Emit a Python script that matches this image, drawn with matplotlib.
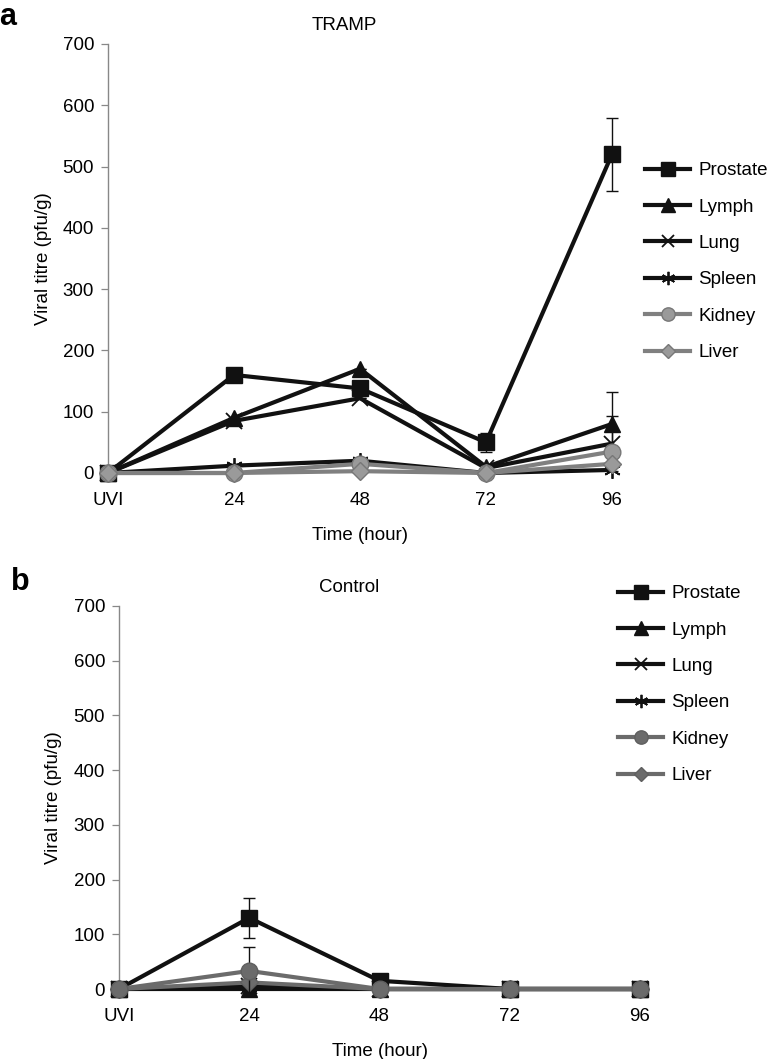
import numpy as np
import matplotlib.pyplot as plt
from matplotlib.lines import Line2D

plt.rcParams['font.family'] = ['Liberation Sans', 'DejaVu Sans']

# --- data ---
time_labels = ['UVI', '24', '48', '72', '96']
organs = ['Prostate', 'Lymph', 'Lung', 'Spleen', 'Kidney', 'Liver']

# panel a: TRAMP
tramp_prostate = [0, 160, 138, 50, 520]
tramp_lymph = [0, 90, 170, 10, 80]
tramp_lung = [0, 85, 122, 8, 48]
tramp_spleen = [0, 12, 20, 0, 5]
tramp_kidney = [0, 0, 15, 0, 35]
tramp_liver = [0, 0, 3, 0, 15]
tramp_prostate_err = [0, 0, 0, 16, 60]
tramp_lymph_err = [0, 0, 0, 0, 52]
tramp_lung_err = [0, 0, 0, 0, 45]

# panel b: Control
ctrl_prostate = [0, 130, 15, 0, 0]
ctrl_lymph = [0, 0, 0, 0, 0]
ctrl_lung = [0, 5, 0, 0, 0]
ctrl_spleen = [0, 3, 0, 0, 0]
ctrl_kidney = [0, 33, 0, 0, 0]
ctrl_liver = [0, 12, 0, 0, 0]
ctrl_prostate_err = [0, 37, 0, 0, 0]
ctrl_kidney_err = [0, 44, 0, 0, 0]

W, H = 773, 1059
FS = 13.5
fig = plt.figure(figsize=(W / 100, H / 100), dpi=100)


def px_axes(left, right, top, bottom):
    return fig.add_axes([left / W, 1 - bottom / H, (right - left) / W, (bottom - top) / H])


def style(grey_line, grey_face, grey_edge):
    return {
        'Prostate': dict(color='#111111', marker='s', ms=12, mfc='#111111', mec='#111111'),
        'Lymph': dict(color='#111111', marker='^', ms=12, mfc='#111111', mec='#111111'),
        'Lung': dict(color='#111111', marker='x', ms=11, mew=1.3, mec='#111111'),
        'Spleen': dict(color='#111111', marker=(6, 2, 0), ms=12, mew=1.3, mec='#111111'),
        'Kidney': dict(color=grey_line, marker='o', ms=12, mfc=grey_face, mec=grey_edge),
        'Liver': dict(color=grey_line, marker='D', ms=9.5, mfc=grey_face, mec=grey_edge),
    }


def draw_panel(ax, series, errs, styles, zorders):
    x = np.arange(len(time_labels))
    for name, vals in zip(organs, series):
        st = styles[name]
        ax.plot(x, vals, lw=3.0, clip_on=False, zorder=zorders[name], **st)
        if name in errs:
            ax.errorbar(x, vals, yerr=errs[name], fmt='none', ecolor='#111111',
                        elinewidth=1.0, capsize=4, capthick=1.0,
                        zorder=zorders[name] - 0.5, clip_on=False)
    ax.set_xlim(0, 4)
    ax.set_ylim(0, 700)
    ax.set_yticks(np.arange(0, 701, 100))
    ax.set_xticks(x)
    ax.set_xticklabels(time_labels)
    for s in ['top', 'right', 'bottom']:
        ax.spines[s].set_visible(False)
    ax.spines['left'].set_color('#888888')
    ax.spines['left'].set_linewidth(1.0)
    ax.tick_params(axis='y', direction='out', length=5, width=0.9, color='#888888',
                   labelsize=FS, pad=5)
    ax.tick_params(axis='x', length=0, labelsize=FS, pad=13.5)
    ax.set_xlabel('Time (hour)', fontsize=FS, labelpad=13)
    ax.set_ylabel('Viral titre (pfu/g)', fontsize=FS, labelpad=8)


def add_legend(ax, styles, x0, y0):
    handles = [Line2D([], [], lw=3.0, **styles[n]) for n in organs]
    ax.legend(handles, organs, loc='upper left', bbox_to_anchor=(x0 / W, 1 - y0 / H),
              bbox_transform=fig.transFigure, frameon=False, fontsize=FS,
              handlelength=2.4, handletextpad=0.45, labelspacing=1.03, borderpad=0,
              borderaxespad=0, markerscale=0.8)


# panel a
ax1 = px_axes(108, 612, 44, 473)
st_a = style('#808080', '#9a9a9a', '#777777')
z_a = {n: 3 + i for i, n in enumerate(organs)}
draw_panel(ax1,
           [tramp_prostate, tramp_lymph, tramp_lung, tramp_spleen, tramp_kidney, tramp_liver],
           {'Prostate': tramp_prostate_err, 'Lymph': tramp_lymph_err, 'Lung': tramp_lung_err},
           st_a, z_a)
add_legend(ax1, st_a, 645, 162)

# panel b
ax2 = px_axes(119, 640, 606, 989)
st_b = style('#6b6b6b', '#6b6b6b', '#5f5f5f')
z_b = {'Lymph': 3, 'Lung': 4, 'Spleen': 5, 'Liver': 6, 'Prostate': 7, 'Kidney': 8}
draw_panel(ax2,
           [ctrl_prostate, ctrl_lymph, ctrl_lung, ctrl_spleen, ctrl_kidney, ctrl_liver],
           {'Prostate': ctrl_prostate_err, 'Kidney': ctrl_kidney_err},
           st_b, z_b)
add_legend(ax2, st_b, 618, 585)

fig.text(344 / W, 1 - 26 / H, 'TRAMP', ha='center', va='center', fontsize=FS)
fig.text(349 / W, 1 - 587 / H, 'Control', ha='center', va='center', fontsize=FS)
fig.text(-1 / W, 1 - 17 / H, 'a', ha='left', va='center', fontsize=22, fontweight='bold')
fig.text(11 / W, 1 - 582 / H, 'b', ha='left', va='center', fontsize=22, fontweight='bold')

fig.savefig('out.png', dpi=100)
